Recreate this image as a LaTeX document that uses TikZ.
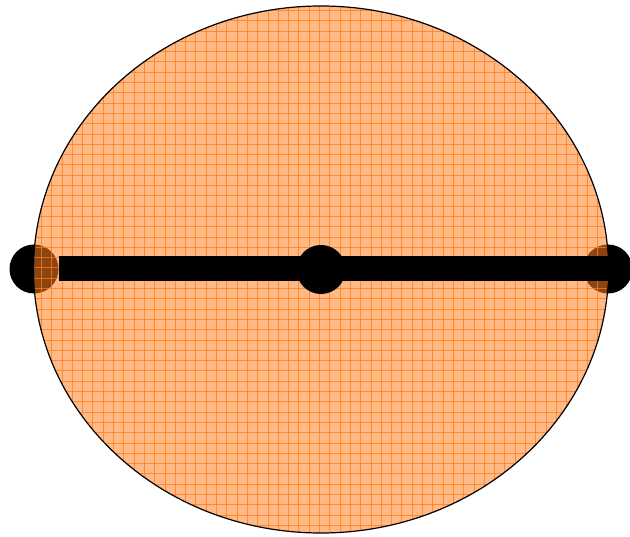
\documentclass[tikz,border=0pt]{standalone}
\usepackage{xcolor}
\usepackage{tikz}
\usetikzlibrary{positioning}

\definecolor{gridorange}{HTML}{FF7A1A}
\definecolor{fillorange}{HTML}{FF7F20}

\begin{document}
\begin{tikzpicture}[x=1pt, y=-1pt,
  dot/.style={circle, fill=black, inner sep=0pt, minimum size=49pt},
  bar/.style={line width=25pt, black},
  gridline/.style={gridorange, opacity=0.75, line width=0.6pt}]
\useasboundingbox (0,0) rectangle (630,537);
% two end kernels (under the disc)
\node[dot] (west) at (34,269) {};
\node[dot] (east) at (608,269) {};
% gridded disc
\begin{scope}
\clip (321,269.5) ellipse (287.5 and 263.5);
\fill[fillorange, opacity=0.55] (0,0) rectangle (630,537);
\foreach \i in {0,...,61} {
  \draw[gridline] (\i*10.3,0) -- (\i*10.3,537);
}
\foreach \j in {0,...,52} {
  \draw[gridline] (0,\j*10.3) -- (630,\j*10.3);
}
\end{scope}
\draw[black, line width=1.2pt] (321,269.5) ellipse (287.5 and 263.5);
% axis and centre
\draw[bar] (west.east) -- (east.center);
\node[dot] (hub) at (321,269.5) {};
\end{tikzpicture}
\end{document}
